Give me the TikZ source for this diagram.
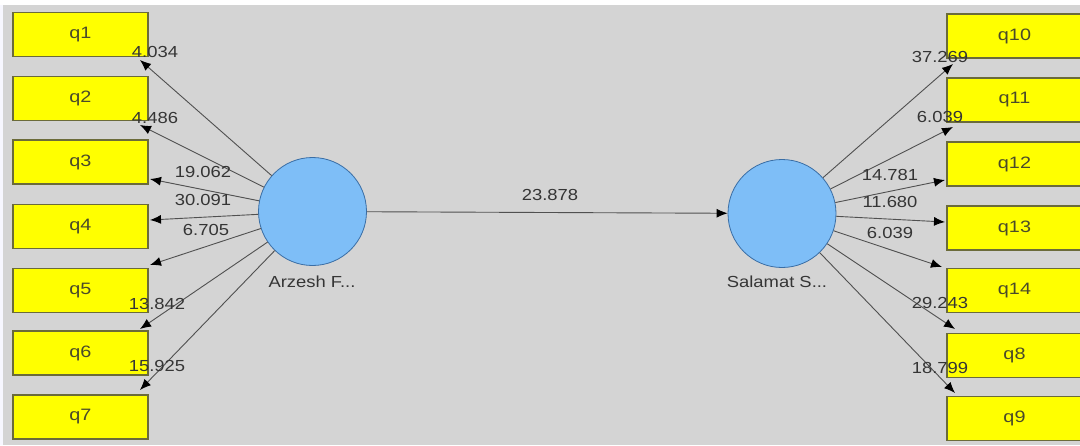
\documentclass[tikz,border=0pt]{standalone}
\usepackage{fontspec}
\setmainfont{Liberation Sans}
\usetikzlibrary{arrows.meta}
\definecolor{bg}{HTML}{D4D4D4}
\definecolor{boxfill}{HTML}{FFFF00}
\definecolor{boxline}{HTML}{6B6B3A}
\definecolor{boxtext}{HTML}{4A4A2A}
\definecolor{circfill}{HTML}{7EBEF7}
\definecolor{circline}{HTML}{3A6EA5}
\definecolor{linecol}{HTML}{505050}
\definecolor{txt}{HTML}{353535}
\newcommand{\sx}[1]{\scalebox{1.15}[1]{#1}}
\newcommand{\bx}[1]{\scalebox{1.2}[1]{#1}}
\tikzset{
  ind/.style={draw=boxline, line width=1.2pt, fill=boxfill, minimum width=135pt, minimum height=44pt, inner sep=0pt, text=boxtext, font=\fontsize{16.5}{18}\selectfont},
  lat/.style={circle, draw=circline, line width=0.8pt, fill=circfill, minimum size=108pt, inner sep=0pt},
  conn/.style={draw=linecol, line width=0.9pt, -{Latex[length=11pt,width=9pt,color=black]}},
  val/.style={text=txt, font=\fontsize{16}{18}\selectfont, inner sep=0pt},
  latlabel/.style={text=txt, font=\fontsize{16}{18}\selectfont, inner sep=0pt}
}
\begin{document}
\begin{tikzpicture}[x=1pt,y=-1pt]
\useasboundingbox (0,0) rectangle (1080,445);
\fill[bg] (0,0) rectangle (1080,445);
\fill[white] (0,0) rectangle (1080,5);
\fill[white!85!blue!20] (0,5) rectangle (3,445);

% left indicators
\node[ind] (q1) at (80.5,34.5) {\bx{q1}};
\node[ind] (q2) at (80.5,98.5) {\bx{q2}};
\node[ind] (q3) at (80.5,162) {\bx{q3}};
\node[ind] (q4) at (80.5,226.5) {\bx{q4}};
\node[ind] (q5) at (80.5,290.5) {\bx{q5}};
\node[ind] (q6) at (80.5,353) {\bx{q6}};
\node[ind] (q7) at (80.5,417) {\bx{q7}};
% right indicators
\node[ind] (q10) at (1014.5,36) {\bx{q10}};
\node[ind] (q11) at (1014.5,100) {\bx{q11}};
\node[ind] (q12) at (1014.5,164) {\bx{q12}};
\node[ind] (q13) at (1014.5,228) {\bx{q13}};
\node[ind] (q14) at (1014.5,290.5) {\bx{q14}};
\node[ind] (q8) at (1014.5,355.5) {\bx{q8}};
\node[ind] (q9) at (1014.5,418.5) {\bx{q9}};

% latent variables
\node[lat] (A) at (312.5,211.5) {};
\node[lat] (S) at (782,213.5) {};
\node[latlabel] (Acap) at (312,282) {\sx{Arzesh F...}};
\node[latlabel] (Scap) at (777,282) {\sx{Salamat S...}};

% arrow end points
\coordinate (t1) at (140,60);
\coordinate (t2) at (140,125);
\coordinate (t3) at (150,179);
\coordinate (t4) at (150,220);
\coordinate (t5) at (150,265);
\coordinate (t6) at (140,329);
\coordinate (t7) at (140,390);
\coordinate (t10) at (953,64);
\coordinate (t11) at (953,127);
\coordinate (t12) at (945,180);
\coordinate (t13) at (945,222);
\coordinate (t14) at (942,267);
\coordinate (t8) at (955,329);
\coordinate (t9) at (955,393);

\foreach \t in {t1,t2,t3,t4,t5,t6,t7} \draw[conn] (A) -- (\t);
\foreach \t in {t10,t11,t12,t13,t14,t8,t9} \draw[conn] (S) -- (\t);
\draw[conn] (A) -- (S);

% values
\node[val] (v1) at (155,52) {\sx{4.034}};
\node[val] (v2) at (155,118) {\sx{4.486}};
\node[val] (v3) at (203,172) {\sx{19.062}};
\node[val] (v4) at (203,200) {\sx{30.091}};
\node[val] (v5) at (206,230) {\sx{6.705}};
\node[val] (v6) at (157,304) {\sx{13.842}};
\node[val] (v7) at (157,366) {\sx{15.925}};
\node[val] (v10) at (940,57) {\sx{37.269}};
\node[val] (v11) at (940,117) {\sx{6.039}};
\node[val] (v12) at (890,175) {\sx{14.781}};
\node[val] (v13) at (890,202) {\sx{11.680}};
\node[val] (v14) at (890,233) {\sx{6.039}};
\node[val] (v8) at (940,303) {\sx{29.243}};
\node[val] (v9) at (940,368) {\sx{18.799}};
\node[val] (vm) at (550,195) {\sx{23.878}};
\end{tikzpicture}
\end{document}
